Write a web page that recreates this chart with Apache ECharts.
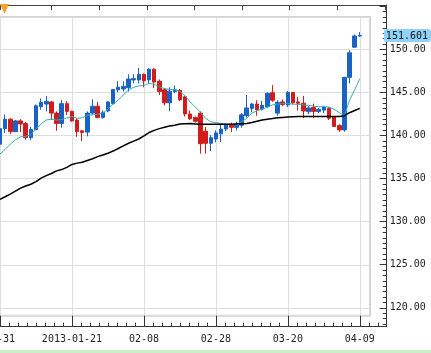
<!DOCTYPE html>
<html>
<head>
<meta charset="utf-8">
<script src="https://cdn.jsdelivr.net/npm/echarts@6/dist/echarts.min.js"></script>
<style>
html, body { margin: 0; padding: 0; background: #fff; }
#chart { width: 431px; height: 353px; }
</style>
</head>
<body>
<div id="chart"></div>
<script>
// trading days shown on the chart
var dates = [
  '2012-12-31',
  '2013-01-02', '2013-01-03', '2013-01-04', '2013-01-07', '2013-01-08', '2013-01-09', '2013-01-10',
  '2013-01-11', '2013-01-14', '2013-01-15', '2013-01-16', '2013-01-17', '2013-01-18', '2013-01-21',
  '2013-01-22', '2013-01-23', '2013-01-24', '2013-01-25', '2013-01-28', '2013-01-29', '2013-01-30',
  '2013-01-31', '2013-02-01', '2013-02-04', '2013-02-05', '2013-02-06', '2013-02-07', '2013-02-08',
  '2013-02-11', '2013-02-12', '2013-02-13', '2013-02-14', '2013-02-15', '2013-02-18', '2013-02-19',
  '2013-02-20', '2013-02-21', '2013-02-22', '2013-02-25', '2013-02-26', '2013-02-27', '2013-02-28',
  '2013-03-01', '2013-03-04', '2013-03-05', '2013-03-06', '2013-03-07', '2013-03-08', '2013-03-11',
  '2013-03-12', '2013-03-13', '2013-03-14', '2013-03-15', '2013-03-18', '2013-03-19', '2013-03-20',
  '2013-03-21', '2013-03-22', '2013-03-25', '2013-03-26', '2013-03-27', '2013-03-28', '2013-03-29',
  '2013-04-01', '2013-04-02', '2013-04-03', '2013-04-04', '2013-04-05', '2013-04-08', '2013-04-09'
];

// [open, close, low, high]
var candles = [
  [139.0, 140.8, 138.9, 141.0], [140.8, 141.9, 140.3, 142.45], [141.9, 140.45, 140.2, 142.0],
  [140.45, 141.7, 140.4, 141.8], [141.7, 141.35, 140.4, 141.9], [141.4, 139.75, 139.5, 141.6],
  [139.75, 140.7, 139.45, 141.0], [140.7, 143.45, 140.6, 143.6], [143.35, 143.85, 143.0, 144.3],
  [143.65, 143.95, 142.8, 144.6], [143.9, 142.6, 141.8, 144.0], [142.6, 141.4, 140.55, 142.8],
  [141.4, 143.7, 140.9, 144.1], [143.7, 142.8, 142.4, 144.0], [142.8, 141.7, 141.6, 142.9],
  [141.8, 140.45, 139.85, 142.0], [140.55, 140.35, 139.35, 140.6], [140.4, 142.6, 139.9, 142.8],
  [142.6, 143.4, 142.4, 144.2], [143.4, 142.1, 142.0, 143.9], [142.1, 142.7, 141.95, 142.9],
  [142.85, 143.9, 142.7, 144.0], [143.7, 145.35, 143.6, 145.4], [145.3, 145.6, 145.0, 146.3],
  [145.4, 145.7, 145.1, 146.3], [145.55, 146.55, 145.1, 147.1], [146.45, 146.6, 146.05, 147.1],
  [146.45, 147.1, 146.05, 147.85], [147.1, 146.35, 145.6, 147.2], [146.45, 147.7, 146.0, 147.8],
  [147.7, 146.2, 145.5, 147.8], [146.3, 145.1, 144.7, 146.5], [145.3, 143.8, 143.5, 145.5],
  [143.8, 145.15, 142.8, 145.6], [145.1, 145.3, 144.9, 145.8], [145.25, 144.15, 144.0, 145.4],
  [144.5, 142.5, 142.2, 144.7], [142.5, 141.95, 141.8, 142.9], [142.1, 141.65, 141.5, 142.2],
  [142.6, 139.05, 137.9, 142.8], [140.5, 139.1, 137.9, 141.0], [139.1, 139.75, 138.2, 140.05],
  [139.6, 140.3, 139.2, 140.6], [140.2, 140.75, 139.25, 141.3], [140.75, 141.2, 140.5, 141.4],
  [141.2, 140.95, 140.4, 141.5], [140.95, 141.2, 140.6, 141.6], [141.2, 142.4, 140.9, 142.6],
  [142.3, 143.2, 142.1, 144.7], [143.15, 143.65, 142.7, 143.8], [143.65, 143.0, 142.3, 144.1],
  [143.07, 143.5, 142.9, 144.0], [143.35, 144.9, 143.2, 145.0], [144.95, 144.1, 143.9, 145.85],
  [142.6, 143.85, 142.3, 144.1], [143.9, 143.6, 143.4, 144.2], [143.55, 145.0, 143.3, 145.15],
  [145.0, 143.8, 143.6, 145.05], [143.9, 143.75, 142.9, 144.5], [143.75, 142.85, 142.0, 144.6],
  [142.76, 143.2, 142.5, 143.4], [143.25, 142.8, 142.0, 143.7], [142.8, 143.05, 142.6, 143.2],
  [142.95, 143.3, 142.6, 143.4], [143.15, 142.0, 141.8, 143.3], [142.15, 141.05, 141.0, 142.2],
  [141.15, 140.65, 140.45, 141.3], [140.65, 146.75, 140.45, 146.8], [146.75, 149.6, 146.05, 149.9],
  [150.25, 151.55, 150.2, 151.7], [151.55, 151.601, 151.45, 152.0]
];

// short moving average (teal)
var maShort = [
  137.85, 138.4, 139.0, 139.5, 139.85, 139.9, 140.1, 140.8, 141.35, 141.8,
  141.9, 141.8, 141.85, 142.05, 142.2, 142.0, 142.05, 142.35, 142.4, 142.45,
  142.6, 143.05, 143.65, 144.1, 144.7, 145.3, 145.6, 145.75, 145.8, 146.05,
  145.95, 145.65, 145.45, 145.35, 145.3, 145.1, 144.6, 143.9, 143.3, 142.7,
  142.0, 141.6, 141.5, 141.4, 141.3, 141.3, 141.33, 141.6, 142.0, 142.6,
  142.9, 143.05, 143.3, 143.55, 143.65, 143.7, 143.7, 143.65, 143.6, 143.55,
  143.5, 143.4, 143.35, 143.35, 143.3, 143.05, 142.65, 142.3, 144.1, 145.3,
  146.6
];

// long moving average (black)
var maLong = [
  132.6, 132.9, 133.2, 133.55, 133.9, 134.15, 134.35, 134.65, 135.05, 135.35,
  135.6, 135.9, 136.05, 136.3, 136.65, 136.8, 136.9, 137.1, 137.3, 137.55,
  137.75, 137.95, 138.2, 138.5, 138.8, 139.1, 139.35, 139.6, 139.95, 140.35,
  140.6, 140.8, 140.95, 141.1, 141.2, 141.33, 141.38, 141.4, 141.35, 141.3,
  141.3, 141.3, 141.3, 141.3, 141.3, 141.32, 141.35, 141.38, 141.4, 141.5,
  141.65, 141.8, 141.9, 141.97, 142.05, 142.1, 142.15, 142.18, 142.2, 142.2,
  142.2, 142.2, 142.2, 142.2, 142.2, 142.2, 142.2, 142.3, 142.65, 142.9,
  143.15
];

var lastPrice = 151.601;
var labelStep = 14;

var chart = echarts.init(document.getElementById('chart'));
var mono = 'DejaVu Sans Mono';
var axisColor = '#333';
var gridColor = '#dedede';

var option = {
  animation: false,
  backgroundColor: '#fff',
  grid: [
    // inner plot box
    { left: 0, top: 17, right: 60.9, bottom: 37.3, outerBoundsMode: 'none', show: true, borderColor: '#d2d2d2', borderWidth: 2, backgroundColor: '#fff' },
    // outer frame carrying the axes
    { left: 0, top: 5, right: 44.3, bottom: 26.3, outerBoundsMode: 'none' }
  ],
  xAxis: [
    {
      gridIndex: 0, type: 'category', data: dates.concat(['', '']), boundaryGap: false,
      axisLine: { show: false, onZero: false }, axisTick: { show: false }, axisLabel: { show: false },
      splitLine: { show: true, interval: labelStep - 1, lineStyle: { color: gridColor } }
    },
    {
      gridIndex: 1, type: 'value', position: 'bottom', min: 0, max: 75.23, interval: labelStep,
      axisLine: { show: true, onZero: false, lineStyle: { color: axisColor } },
      axisTick: { show: true, inside: true, length: 11, lineStyle: { color: axisColor } },
      minorTick: { show: true, splitNumber: 8, length: 4, lineStyle: { color: axisColor } },
      splitLine: { show: false },
      axisLabel: {
        margin: 8, fontFamily: mono, fontSize: 10, color: '#222',
        formatter: function (v) {
          if (v % labelStep !== 0 || !dates[v]) return '';
          var d = dates[v], prev = dates[v - labelStep];
          return prev && prev.slice(0, 4) !== d.slice(0, 4) ? d : d.slice(5);
        }
      }
    },
    {
      gridIndex: 1, type: 'value', position: 'top', min: -0.084, max: 8.04, splitNumber: 8,
      axisLine: { show: true, onZero: false, lineStyle: { color: '#444' } },
      axisTick: { show: true, inside: true, length: 5, lineStyle: { color: '#444' } },
      axisLabel: { show: false }, splitLine: { show: false }
    }
  ],
  yAxis: [
    {
      gridIndex: 0, type: 'value', min: 119.1, max: 153.75, splitNumber: 7,
      axisLine: { show: false, onZero: false }, axisTick: { show: false }, axisLabel: { show: false },
      splitLine: { show: true, lineStyle: { color: gridColor } }
    },
    {
      gridIndex: 1, type: 'value', position: 'right', min: 117.8, max: 155.15, splitNumber: 7,
      axisLine: { show: true, onZero: false, lineStyle: { color: axisColor } },
      axisTick: { show: true, inside: true, length: 7, lineStyle: { color: axisColor } },
      minorTick: { show: true, splitNumber: 8, length: 4, lineStyle: { color: axisColor } },
      splitLine: { show: false },
      axisLabel: {
        margin: 3, fontFamily: mono, fontSize: 10, color: '#222',
        formatter: function (v) {
          return (v % 5 === 0 && v <= 150) ? v.toFixed(2) : '';
        }
      },
      axisPointer: {
        show: true, value: lastPrice, status: 'show', triggerTooltip: false,
        lineStyle: { opacity: 0 },
        label: {
          show: true, precision: 3, margin: 0, fontFamily: mono, fontSize: 10,
          color: '#111', backgroundColor: '#8fd3fa', padding: [2, 3, 1, 2]
        }
      }
    }
  ],
  series: [
    {
      type: 'candlestick', xAxisIndex: 0, yAxisIndex: 0, data: candles, barWidth: 4,
      itemStyle: { color: '#1a62c4', color0: '#d21c1c', borderColor: '#1a62c4', borderColor0: '#d21c1c', borderWidth: 1 }
    },
    {
      type: 'line', xAxisIndex: 0, yAxisIndex: 0, data: maShort, symbol: 'none',
      lineStyle: { color: '#2fb0ae', width: 1 }
    },
    {
      type: 'line', xAxisIndex: 0, yAxisIndex: 0, data: maLong, symbol: 'none',
      lineStyle: { color: '#000', width: 1.5 }
    }
  ],
  graphic: [
    { type: 'rect', shape: { x: 0, y: 350, width: 431, height: 3 }, style: { fill: '#c8eec8' } },
    { type: 'polygon', shape: { points: [[0, 4], [9, 4], [4.5, 14]] }, style: { fill: '#f5a12a' }, z: 100 }
  ]
};

chart.setOption(option);
</script>
</body>
</html>
